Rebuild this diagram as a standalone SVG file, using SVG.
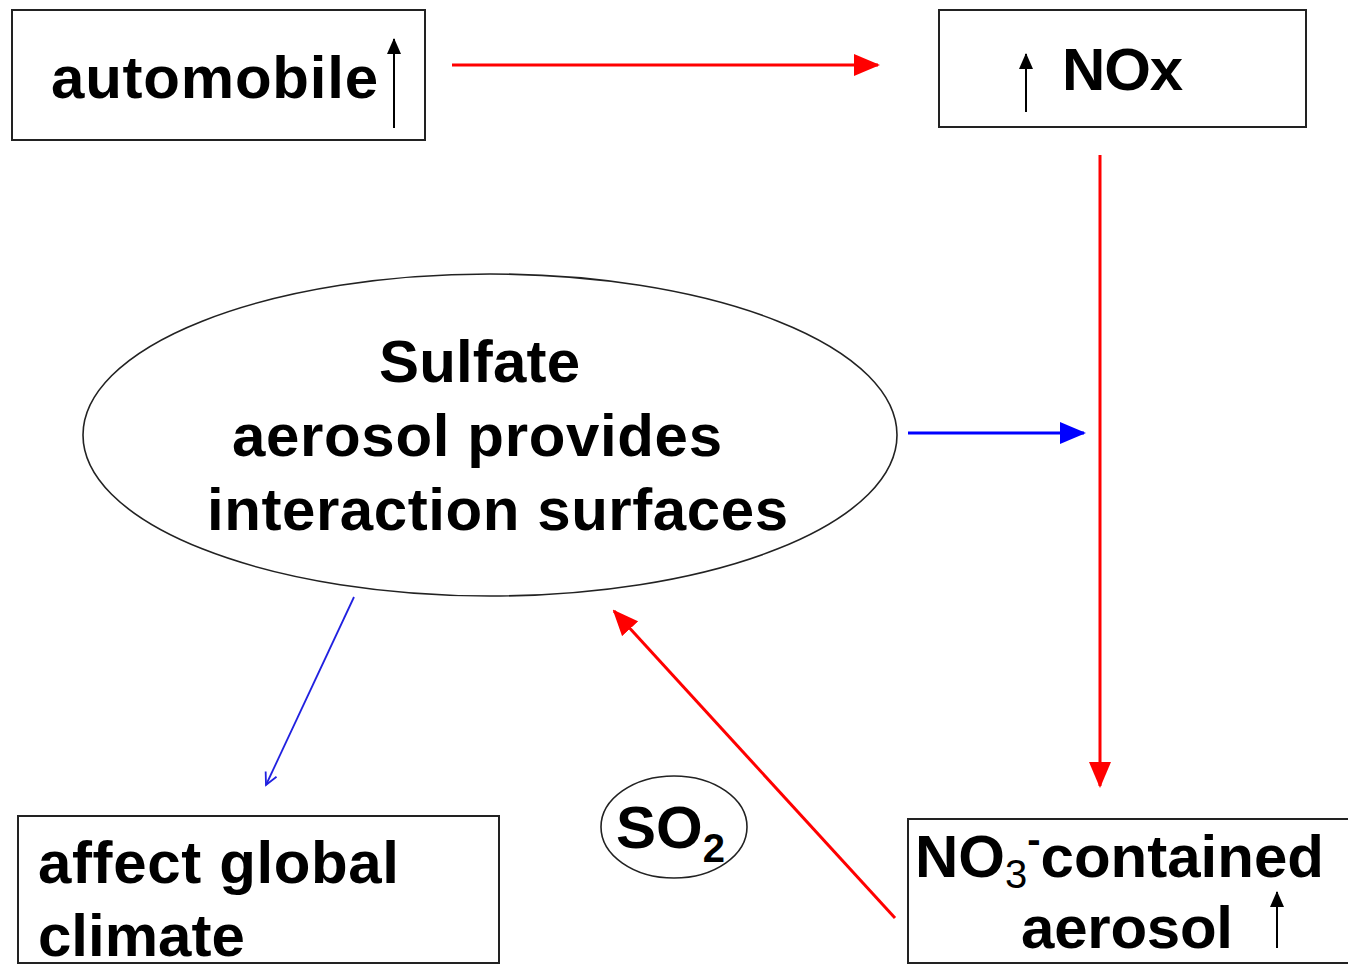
<svg xmlns="http://www.w3.org/2000/svg" width="1348" height="969" viewBox="0 0 1348 969">
<defs>
<marker id="redHead" markerUnits="userSpaceOnUse" markerWidth="26" markerHeight="22" refX="24" refY="11" orient="auto"><path d="M0,0 L26,11 L0,22 Z" fill="#ff0000"/></marker>
<marker id="blueHead" markerUnits="userSpaceOnUse" markerWidth="26" markerHeight="22" refX="24" refY="11" orient="auto"><path d="M0,0 L26,11 L0,22 Z" fill="#0000ff"/></marker>
<marker id="blueOpen" markerUnits="userSpaceOnUse" markerWidth="16" markerHeight="16" refX="14" refY="8" orient="auto"><path d="M2,2 L14,8 L2,14" fill="none" stroke="#2020e0" stroke-width="1.8"/></marker>
<marker id="blackHead" markerUnits="userSpaceOnUse" markerWidth="16" markerHeight="14" refX="15" refY="7" orient="auto"><path d="M0,0 L16,7 L0,14 Z" fill="#000"/></marker>
</defs>
<style>
.box{fill:#fff;stroke:#222;stroke-width:2}
.ell{fill:#fff;stroke:#222;stroke-width:1.6}
.t{font-family:"Liberation Sans",Arial,sans-serif;font-weight:bold;font-size:60px;fill:#000}
.up{stroke:#000;stroke-width:2;fill:none;marker-end:url(#blackHead)}
</style>
<rect width="1348" height="969" fill="#fff"/>
<g id="automobile">
<rect class="box" x="12" y="10" width="413" height="130"/>
<text class="t" x="51" y="98" font-size="61" textLength="327" lengthAdjust="spacing">automobile</text>
<line class="up" x1="394" y1="128" x2="394" y2="39"/>
</g>
<g id="nox">
<rect class="box" x="939" y="10" width="367" height="117"/>
<text class="t" x="1062" y="90" font-size="58" textLength="121" lengthAdjust="spacing">NOx</text>
<line class="up" x1="1026" y1="112" x2="1026" y2="54"/>
</g>
<g id="sulfate">
<ellipse class="ell" cx="490" cy="435" rx="407" ry="161"/>
<text class="t" x="379" y="382" textLength="201" lengthAdjust="spacing">Sulfate</text>
<text class="t" x="232" y="456" textLength="490" lengthAdjust="spacing">aerosol provides</text>
<text class="t" x="207" y="530" textLength="581" lengthAdjust="spacing">interaction surfaces</text>
</g>
<g id="so2">
<ellipse class="ell" cx="674" cy="827" rx="73" ry="51"/>
<text class="t" x="616" y="848" font-size="56">SO<tspan font-size="40" dy="14">2</tspan></text>
</g>
<g id="climate">
<rect class="box" x="18" y="816" width="481" height="147"/>
<text class="t" x="38" y="883" textLength="361" lengthAdjust="spacing">affect global</text>
<text class="t" x="38" y="956">climate</text>
</g>
<g id="no3">
<rect class="box" x="908" y="819" width="450" height="144"/>
<text class="t" x="915" y="877">NO<tspan font-size="40" font-weight="normal" dy="11">3</tspan><tspan font-size="40" dy="-35">-</tspan><tspan dy="24">contained</tspan></text>
<text class="t" x="1021" y="948" textLength="212" lengthAdjust="spacing">aerosol</text>
<line class="up" x1="1277" y1="948" x2="1277" y2="892"/>
</g>
<g id="connectors">
<line x1="452" y1="65" x2="878" y2="65" stroke="#ff0000" stroke-width="3" marker-end="url(#redHead)"/>
<line x1="1100" y1="155" x2="1100" y2="786" stroke="#ff0000" stroke-width="3" marker-end="url(#redHead)"/>
<line x1="908" y1="433" x2="1084" y2="433" stroke="#0000ff" stroke-width="3" marker-end="url(#blueHead)"/>
<line x1="354" y1="597" x2="266" y2="785" stroke="#2020e0" stroke-width="1.8" marker-end="url(#blueOpen)"/>
<line x1="895" y1="918" x2="614" y2="611" stroke="#ff0000" stroke-width="3" marker-end="url(#redHead)"/>
</g>
</svg>
